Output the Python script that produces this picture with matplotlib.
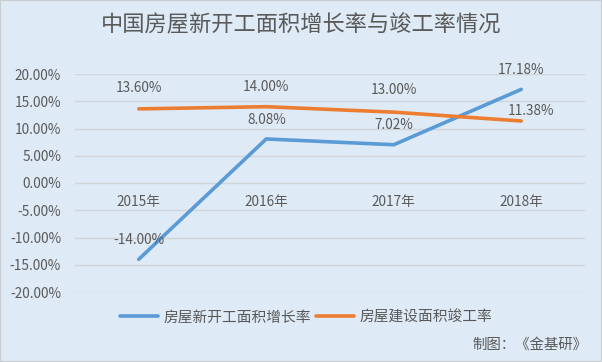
import matplotlib.pyplot as plt
from matplotlib.ticker import FuncFormatter

plt.rcParams['font.family'] = ['Noto Sans CJK SC', 'DejaVu Sans']

# 数据
years = ['2015年', '2016年', '2017年', '2018年']
xinkaigong = [-14.00, 8.08, 7.02, 17.18]   # 房屋新开工面积增长率
jungong = [13.60, 14.00, 13.00, 11.38]     # 房屋建设面积竣工率
xin_offsets = [(0, 14), (0, 14), (0, 14), (0, 14)]
jun_offsets = [(0, 15), (0, 14), (0, 16), (7, 7)]

bg = '#DEEAF6'
txt = '#595959'
blue = '#5B9BD5'
orange = '#ED7D31'

fig = plt.figure(figsize=(6.02, 3.62), dpi=100, facecolor=bg)
fig.patches.append(plt.Rectangle((0, 0), 1, 1, transform=fig.transFigure,
                                 fill=False, edgecolor='#C8CDD2', linewidth=1.5))
ax = fig.add_axes([75/602, 1 - 292/362, 510/602, 218/362])
ax.set_facecolor(bg)

x = range(len(years))
l1, = ax.plot(x, xinkaigong, color=blue, linewidth=2.6, solid_capstyle='round', label='房屋新开工面积增长率')
l2, = ax.plot(x, jungong, color=orange, linewidth=2.6, solid_capstyle='round', label='房屋建设面积竣工率')

for i, v in enumerate(xinkaigong):
    ax.annotate(f'{v:.2f}%', (i, v), xytext=xin_offsets[i], textcoords='offset points',
                ha='center', va='center', fontsize=9.8, color=txt)
for i, v in enumerate(jungong):
    ax.annotate(f'{v:.2f}%', (i, v), xytext=jun_offsets[i], textcoords='offset points',
                ha='center', va='center', fontsize=9.8, color=txt)

# 类别标签放在0轴下方
for i, y in enumerate(years):
    ax.text(i, -3.4, y, ha='center', va='center', fontsize=9.8, color=txt)

ax.set_xlim(-0.5, 3.5)
ax.set_ylim(-20, 20)
ax.set_yticks(range(-20, 21, 5))
ax.yaxis.set_major_formatter(FuncFormatter(lambda v, p: f'{v:.2f}%'))
ax.set_xticks([])
ax.tick_params(axis='y', length=0, labelsize=9.8, labelcolor=txt, pad=10)
ax.grid(axis='y', color='#D0D5DA', linewidth=1)
ax.set_axisbelow(True)
for s in ax.spines.values():
    s.set_visible(False)

fig.text(0.5, 1 - 25/362, '中国房屋新开工面积增长率与竣工率情况', ha='center', va='center',
         fontsize=16, color=txt)
fig.legend(handles=[l1, l2], loc='center', bbox_to_anchor=(306/602, 1 - 317/362), ncol=2,
           frameon=False, fontsize=10.6, labelcolor=txt, handlelength=2.6, columnspacing=0.3,
           handletextpad=0.4)
fig.text(587/602, 1 - 345/362, '制图：《金基研》', ha='right', va='center', fontsize=10.4, color=txt)

fig.savefig('out.png', dpi=100, facecolor=bg)
